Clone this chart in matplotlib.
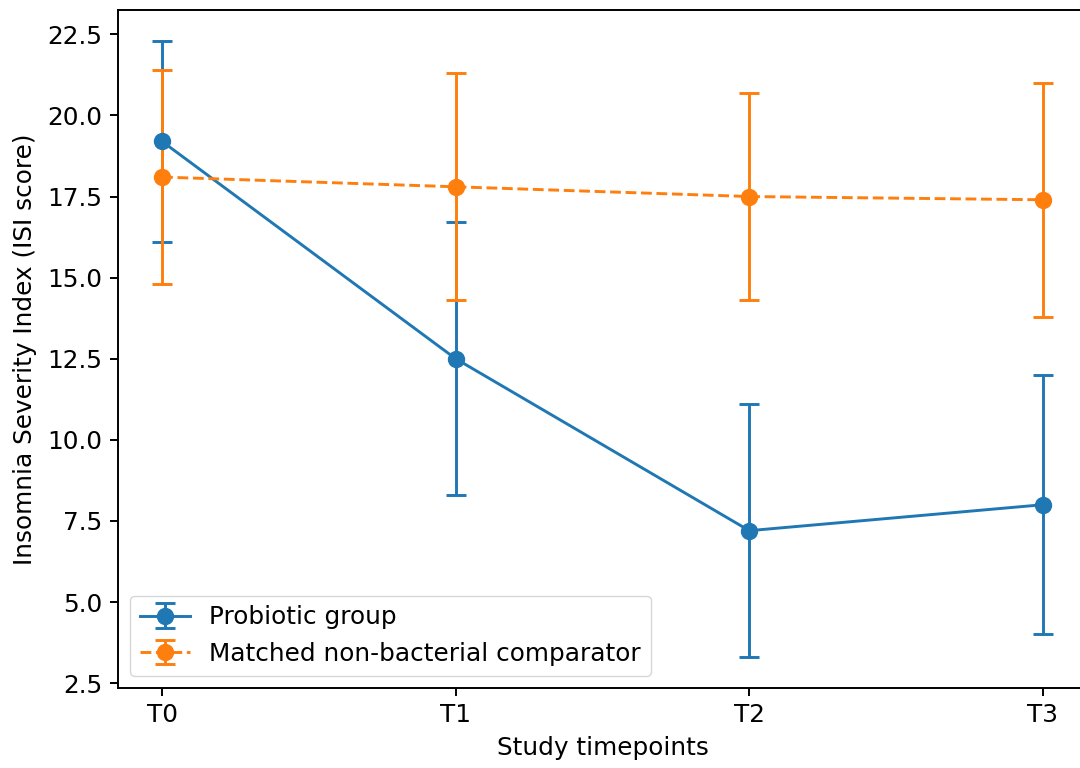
import matplotlib
matplotlib.use("Agg")
import matplotlib.pyplot as plt

timepoints = ["T0", "T1", "T2", "T3"]
probiotic_mean = [19.2, 12.5, 7.2, 8.0]
probiotic_low = [16.1, 8.3, 3.3, 4.0]
probiotic_high = [22.3, 16.7, 11.1, 12.0]
comparator_mean = [18.1, 17.8, 17.5, 17.4]
comparator_low = [14.8, 14.3, 14.3, 13.8]
comparator_high = [21.4, 21.3, 20.7, 21.0]

x = list(range(len(timepoints)))
p_err = [[m - l for m, l in zip(probiotic_mean, probiotic_low)],
         [h - m for m, h in zip(probiotic_mean, probiotic_high)]]
c_err = [[m - l for m, l in zip(comparator_mean, comparator_low)],
         [h - m for m, h in zip(comparator_mean, comparator_high)]]

plt.rcParams['font.family'] = ['DejaVu Sans']
fs = 17.8
fig = plt.figure(figsize=(10.8, 7.68), dpi=100)
ax = fig.add_axes([118/1080, (768-688)/768, 969/1080, 678/768])

ax.errorbar(x, probiotic_mean, yerr=p_err, fmt='-o', color='#1f77b4',
            linewidth=2.1, markersize=11.5, capsize=7.5, elinewidth=2.1,
            capthick=2.1, label='Probiotic group')
ax.errorbar(x, comparator_mean, yerr=c_err, fmt='--o', color='#ff7f0e',
            linewidth=2.1, markersize=11.5, capsize=7.5, elinewidth=2.1,
            capthick=2.1, label='Matched non-bacterial comparator')

ax.set_xticks(x)
ax.set_xticklabels(timepoints)
ax.set_xlabel('Study timepoints', fontsize=fs, labelpad=6)
ax.set_ylabel('Insomnia Severity Index (ISI score)', fontsize=fs, labelpad=8)
ax.tick_params(labelsize=fs, length=6, width=1.4, pad=5)
for s in ax.spines.values():
    s.set_linewidth(1.4)
ax.legend(loc='lower left', fontsize=fs, borderaxespad=0.5)

fig.savefig('out.png', dpi=100)
